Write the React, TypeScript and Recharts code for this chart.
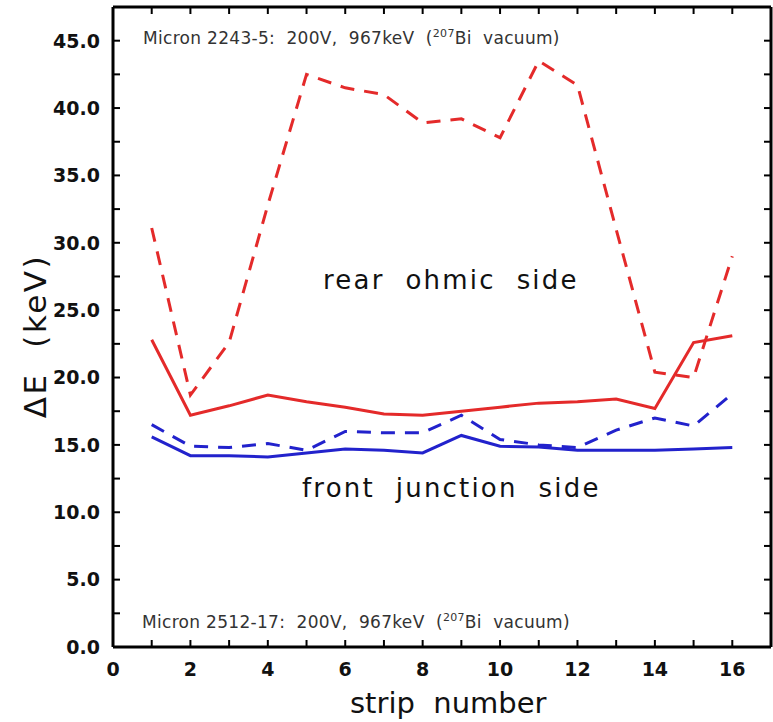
import React from "react";
import { LineChart, Line, XAxis, YAxis } from "recharts";

const strips = [1, 2, 3, 4, 5, 6, 7, 8, 9, 10, 11, 12, 13, 14, 15, 16];
const rearDashed = [31.1, 18.7, 22.6, 32.8, 42.5, 41.5, 41.0, 38.9, 39.2, 37.8, 43.5, 41.7, 31.0, 20.4, 20.0, 29.0];
const rearSolid = [22.8, 17.2, 17.9, 18.7, 18.2, 17.8, 17.3, 17.2, 17.5, 17.8, 18.1, 18.2, 18.4, 17.7, 22.6, 23.1];
const frontDashed = [16.5, 14.9, 14.8, 15.1, 14.6, 16.0, 15.9, 15.9, 17.2, 15.4, 15.0, 14.8, 16.1, 17.0, 16.4, 18.8];
const frontSolid = [15.6, 14.2, 14.2, 14.1, 14.4, 14.7, 14.6, 14.4, 15.7, 14.9, 14.85, 14.6, 14.6, 14.6, 14.7, 14.8];

const xTicks = [0, 1, 2, 3, 4, 5, 6, 7, 8, 9, 10, 11, 12, 13, 14, 15, 16];
const yTicks = [0, 2.5, 5, 7.5, 10, 12.5, 15, 17.5, 20, 22.5, 25, 27.5, 30, 32.5, 35, 37.5, 40, 42.5, 45];

const data = strips.map((s, i) => ({
  strip: s,
  rearDashed: rearDashed[i],
  rearSolid: rearSolid[i],
  frontDashed: frontDashed[i],
  frontSolid: frontSolid[i],
}));

const W = 773;
const H = 722;
const LEFT_W = 113;
const BOTTOM_H = 75;
const TOP_H = 7;
const RIGHT_W = 2;
const AXIS_L = LEFT_W;
const AXIS_B = H - BOTTOM_H;
const AXIS_T = TOP_H;
const AXIS_R = W - RIGHT_W;

const RED = "#e42a2a";
const BLUE = "#2222cc";
const TICK = 7;
const TICKCOL = "#000";
const tickFont = { fontFamily: "DejaVu Sans", fontWeight: "bold" as const, fontSize: 19, fill: "#111" };

const LeftTick = (props: any) => {
  const { y, payload } = props;
  const v = payload.value as number;
  const major = Math.abs(v % 5) < 1e-6;
  return (
    <g>
      <path d={`M${AXIS_L},${y}H${AXIS_L + TICK}`} stroke={TICKCOL} strokeWidth={2} />
      {major && (
        <text x={AXIS_L - 13} y={y} dy="0.36em" textAnchor="end" {...tickFont}>
          {v.toFixed(1)}
        </text>
      )}
    </g>
  );
};

const RightTick = (props: any) => {
  const { y } = props;
  return <path d={`M${AXIS_R - TICK},${y}H${AXIS_R}`} stroke={TICKCOL} strokeWidth={2} />;
};

const BottomTick = (props: any) => {
  const { x, payload } = props;
  const v = payload.value as number;
  return (
    <g>
      <path d={`M${x},${AXIS_B}V${AXIS_B - TICK}`} stroke={TICKCOL} strokeWidth={2} />
      {v % 2 === 0 && (
        <text x={x} y={AXIS_B + 22} dy="0.36em" textAnchor="middle" {...tickFont}>
          {String(v)}
        </text>
      )}
    </g>
  );
};

const TopTick = (props: any) => {
  const { x } = props;
  return <path d={`M${x},${AXIS_T}V${AXIS_T + TICK}`} stroke={TICKCOL} strokeWidth={2} />;
};

const labelFont = { fontFamily: "DejaVu Sans", fill: "#111" };

export default function App() {
  return (
    <div style={{ position: "absolute", left: 0, top: 0, width: W, height: H, background: "#fff" }}>
      <LineChart width={W} height={H} data={data} margin={{ top: 0, right: 0, left: 0, bottom: 0 }}>
        <XAxis xAxisId="b" dataKey="strip" type="number" domain={[0, 17]} ticks={xTicks} interval={0} height={BOTTOM_H} tickSize={6} tickMargin={16} tickLine={false} axisLine={{ stroke: "#000", strokeWidth: 3 }} tick={<BottomTick />} />
        <XAxis xAxisId="t" orientation="top" dataKey="strip" type="number" domain={[0, 17]} ticks={xTicks} interval={0} height={TOP_H} tickSize={6} tickMargin={0} tickLine={false} axisLine={{ stroke: "#000", strokeWidth: 3 }} tick={<TopTick />} />
        <YAxis yAxisId="l" type="number" domain={[0, 47.5]} ticks={yTicks} interval={0} width={LEFT_W} tickSize={6} tickMargin={7} tickLine={false} axisLine={{ stroke: "#000", strokeWidth: 3 }} tick={<LeftTick />} />
        <YAxis yAxisId="r" orientation="right" type="number" domain={[0, 47.5]} ticks={yTicks} interval={0} width={RIGHT_W} tickSize={6} tickMargin={0} tickLine={false} axisLine={{ stroke: "#000", strokeWidth: 3 }} tick={<RightTick />} />
        <Line xAxisId="t" yAxisId="r" dataKey="frontSolid" stroke="none" strokeWidth={0} dot={false} isAnimationActive={false} />
        <Line xAxisId="b" yAxisId="l" dataKey="rearDashed" stroke={RED} strokeWidth={3} strokeDasharray="14 10" dot={false} isAnimationActive={false} />
        <Line xAxisId="b" yAxisId="l" dataKey="rearSolid" stroke={RED} strokeWidth={3} dot={false} isAnimationActive={false} />
        <Line xAxisId="b" yAxisId="l" dataKey="frontDashed" stroke={BLUE} strokeWidth={3} strokeDasharray="14 10" dot={false} isAnimationActive={false} />
        <Line xAxisId="b" yAxisId="l" dataKey="frontSolid" stroke={BLUE} strokeWidth={3} dot={false} isAnimationActive={false} />
      </LineChart>
      <svg width={W} height={H} style={{ position: "absolute", left: 0, top: 0, pointerEvents: "none" }}>
        <text x={143} y={44} fontSize={17} letterSpacing={0.3} fill="#333" fontFamily="DejaVu Sans" style={{ whiteSpace: "pre" }}>
          <tspan>{"Micron 2243-5:  200V,  967keV  ("}</tspan>
          <tspan fontSize={11} dy={-7}>207</tspan>
          <tspan dy={7}>{"Bi  vacuum)"}</tspan>
        </text>
        <text x={142} y={628} fontSize={17} letterSpacing={0.3} fill="#333" fontFamily="DejaVu Sans" style={{ whiteSpace: "pre" }}>
          <tspan>{"Micron 2512-17:  200V,  967keV  ("}</tspan>
          <tspan fontSize={11} dy={-7}>207</tspan>
          <tspan dy={7}>{"Bi  vacuum)"}</tspan>
        </text>
        <text x={323} y={289} fontSize={26} letterSpacing={2.2} {...labelFont} style={{ whiteSpace: "pre" }}>
          {"rear  ohmic  side"}
        </text>
        <text x={302} y={497} fontSize={26} letterSpacing={2.2} {...labelFont} style={{ whiteSpace: "pre" }}>
          {"front  junction  side"}
        </text>
        <text x={350} y={713} fontSize={29} {...labelFont} style={{ whiteSpace: "pre" }}>
          {"strip  number"}
        </text>
        <text x={0} y={0} fontSize={31} letterSpacing={2.5} {...labelFont} textAnchor="middle" transform="translate(46,336) rotate(-90)" style={{ whiteSpace: "pre" }}>
          {"ΔE  (keV)"}
        </text>
      </svg>
    </div>
  );
}
